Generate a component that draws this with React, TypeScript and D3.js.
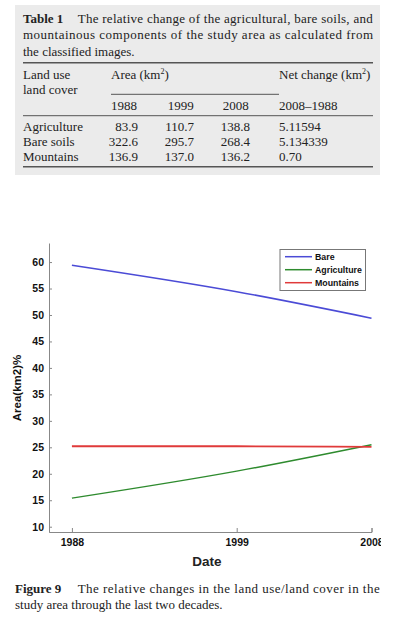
import React, { useRef, useEffect } from 'react';
import * as d3 from 'd3';

// table data
const rowNames = ['Agriculture', 'Bare soils', 'Mountains'];
const years = [1988, 1999, 2008];
const agricultureArea = [83.9, 110.7, 138.8];
const bareArea = [322.6, 295.7, 268.4];
const mountainsArea = [136.9, 137.0, 136.2];
const netChange = ['5.11594', '5.134339', '0.70'];

// chart data (percent of study area)
const seriesNames = ['Bare', 'Agriculture', 'Mountains'];
const barePct = [59.4, 54.4, 49.4];
const agriculturePct = [15.4, 20.5, 25.5];
const mountainsPct = [25.2, 25.2, 25.1];
const yTicks = [10, 15, 20, 25, 30, 35, 40, 45, 50, 55, 60];

const colors = ['#4b4bd6', '#2e8b2e', '#e03a3a'];

const serif = "'Liberation Serif', 'Times New Roman', serif";
const sans = "'Liberation Sans', Arial, sans-serif";

const App: React.FC = () => {
  const ref = useRef<SVGSVGElement>(null);

  useEffect(() => {
    const svg = d3.select(ref.current);
    svg.selectAll('*').remove();

    // ---------- table ----------
    const tbl = svg.append('g').attr('font-family', serif).attr('font-size', 13).attr('fill', '#222');
    tbl.append('rect').attr('x', 15).attr('y', 5).attr('width', 365).attr('height', 170).attr('fill', '#ebebeb');

    tbl.append('text').attr('x', 23).attr('y', 22.7).attr('font-weight', 'bold').text('Table 1');
    tbl.append('text').attr('x', 77.7).attr('y', 22.7)
      .attr('textLength', 295).attr('lengthAdjust', 'spacing')
      .text('The relative change of the agricultural, bare soils, and');
    tbl.append('text').attr('x', 23).attr('y', 39)
      .attr('textLength', 350).attr('lengthAdjust', 'spacing')
      .text('mountainous components of the study area as calculated from');
    tbl.append('text').attr('x', 23).attr('y', 55.5).text('the classified images.');

    const rule = (x1: number, x2: number, y: number, w: number) =>
      tbl.append('line').attr('x1', x1).attr('x2', x2).attr('y1', y).attr('y2', y)
        .attr('stroke', '#555').attr('stroke-width', w);
    rule(23, 373, 62.7, 1.5);
    rule(111, 279, 94.3, 1);
    rule(23, 373, 115.7, 1);
    rule(23, 373, 166.7, 1.5);

    tbl.append('text').attr('x', 23).attr('y', 79).text('Land use');
    tbl.append('text').attr('x', 23).attr('y', 94).text('land cover');
    const area = tbl.append('text').attr('x', 111).attr('y', 79).text('Area (km');
    area.append('tspan').attr('font-size', 8).attr('dy', -5).text('2');
    area.append('tspan').attr('dy', 5).text(')');
    const net = tbl.append('text').attr('x', 279).attr('y', 79).text('Net change (km');
    net.append('tspan').attr('font-size', 8).attr('dy', -5).text('2');
    net.append('tspan').attr('dy', 5).text(')');

    const colLeft = [111, 167.7, 222.7];
    const colRight = [138, 194, 250];
    years.forEach((yr, i) => {
      tbl.append('text').attr('x', colLeft[i]).attr('y', 110).text(String(yr));
    });
    tbl.append('text').attr('x', 279).attr('y', 110).text(`${years[2]}\u2013${years[0]}`);

    const rows = [agricultureArea, bareArea, mountainsArea];
    const rowY = [130.7, 145.7, 160.7];
    rows.forEach((vals, r) => {
      tbl.append('text').attr('x', 23).attr('y', rowY[r]).text(rowNames[r]);
      vals.forEach((v, c) => {
        tbl.append('text').attr('x', colRight[c]).attr('y', rowY[r])
          .attr('text-anchor', 'end').text(v.toFixed(1));
      });
      tbl.append('text').attr('x', 279).attr('y', rowY[r]).text(netChange[r]);
    });

    // ---------- chart ----------
    const chart = svg.append('g');
    svg.append('defs').append('clipPath').attr('id', 'figclip')
      .append('rect').attr('x', 0).attr('y', 230).attr('width', 381).attr('height', 350);
    chart.attr('clip-path', 'url(#figclip)');

    const x = d3.scaleLinear().domain([1986.47, 2008]).range([49, 371.5]);
    const y = d3.scaleLinear().domain([9, 63.6]).range([532, 243]);

    const xAxis = chart.append('g').attr('transform', `translate(0, ${y(9)})`)
      .call(d3.axisBottom(x).tickValues(years).tickFormat(d3.format('d')).tickSize(-4).tickPadding(7).tickSizeOuter(-4));
    const yAxis = chart.append('g').attr('transform', `translate(${x(1986.47)}, 0)`)
      .call(d3.axisLeft(y).tickValues(yTicks).tickSize(-3).tickPadding(5).tickSizeOuter(0));
    [xAxis, yAxis].forEach(a => {
      a.select('.domain').attr('stroke', '#888');
      a.selectAll('.tick line').attr('stroke', '#888');
      a.selectAll('.tick text').attr('font-family', sans).attr('font-weight', 'bold')
        .attr('font-size', 10.5).attr('fill', '#111');
    });

    const series = [barePct, agriculturePct, mountainsPct];
    const line = d3.line<number>()
      .x((_, i) => x(years[i]))
      .y(d => y(d))
      .curve(d3.curveMonotoneX);
    series.forEach((s, i) => {
      chart.append('path').datum(s)
        .attr('fill', 'none').attr('stroke', colors[i]).attr('stroke-width', i === 2 ? 1.8 : 1.5)
        .attr('d', line);
    });

    chart.append('text').attr('x', 207).attr('y', 566).attr('text-anchor', 'middle')
      .attr('font-family', sans).attr('font-size', 13.5).attr('font-weight', 'bold').attr('fill', '#222')
      .text('Date');
    chart.append('text').attr('transform', 'translate(21, 388) rotate(-90)').attr('text-anchor', 'middle')
      .attr('font-family', sans).attr('font-size', 11.5).attr('font-weight', 'bold').attr('fill', '#111')
      .text('Area(km2)%');

    // legend
    const lg = chart.append('g');
    lg.append('rect').attr('x', 280).attr('y', 249.5).attr('width', 85.5).attr('height', 41)
      .attr('fill', '#fff').attr('stroke', '#777').attr('stroke-width', 1);
    seriesNames.forEach((name, i) => {
      const ly = 256.7 + i * 13;
      lg.append('line').attr('x1', 285).attr('x2', 312).attr('y1', ly).attr('y2', ly)
        .attr('stroke', colors[i]).attr('stroke-width', 1.5);
      lg.append('text').attr('x', 315).attr('y', ly + 3.3)
        .attr('font-family', sans).attr('font-size', 8.8).attr('font-weight', 'bold').attr('fill', '#111')
        .text(name);
    });

    // ---------- caption ----------
    const cap = svg.append('g').attr('font-family', serif).attr('font-size', 13).attr('fill', '#222');
    cap.append('text').attr('x', 15).attr('y', 593.3).attr('font-weight', 'bold').text('Figure 9');
    cap.append('text').attr('x', 77.7).attr('y', 593.3)
      .attr('textLength', 302).attr('lengthAdjust', 'spacing')
      .text('The relative changes in the land use/land cover in the');
    cap.append('text').attr('x', 15).attr('y', 609).text('study area through the last two decades.');
  }, []);

  return (
    <svg ref={ref} width={398} height={624}
      style={{ position: 'absolute', left: 0, top: 0, background: '#fff' }}></svg>
  );
};

export default App;
